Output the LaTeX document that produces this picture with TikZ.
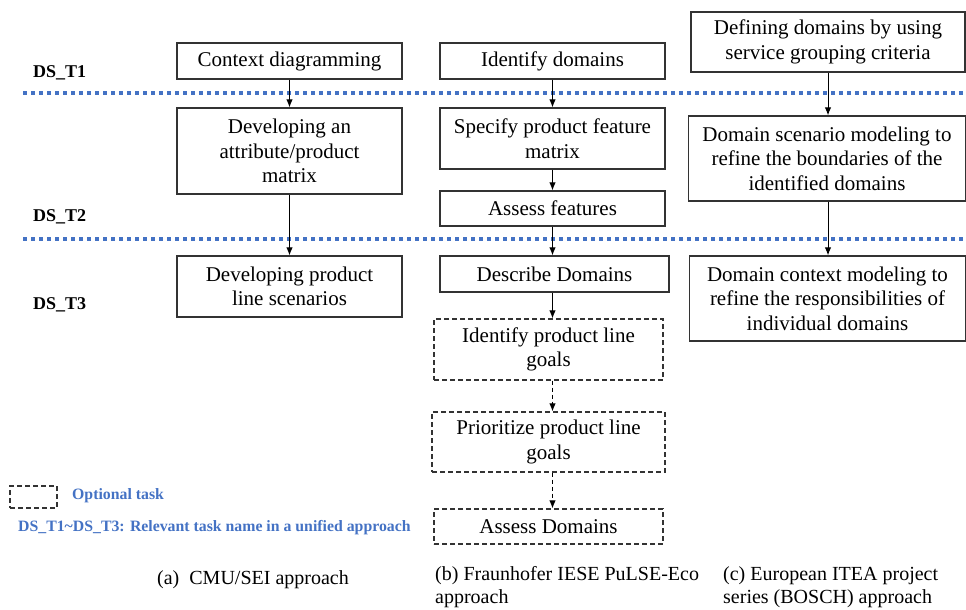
\documentclass[tikz,border=0pt]{standalone}
\usepackage{fontspec}
\setmainfont{Liberation Serif}
\newfontfamily\tms{Liberation Serif}
\usetikzlibrary{arrows.meta}
\definecolor{lblue}{HTML}{4472C4}
\definecolor{bord}{HTML}{333333}
\begin{document}
\begin{tikzpicture}[x=1pt,y=1pt,
  box/.style={draw=bord, line width=1.3pt, inner sep=0pt, align=center,
    font=\tms\fontsize{21}{24.5}\selectfont},
  optbox/.style={box, dashed, dash pattern=on 5pt off 3pt},
  arr/.style={-{Latex[length=8pt,width=6.5pt]}, line width=1pt, black},
  optarr/.style={arr, dash pattern=on 4pt off 3pt},
  dslabel/.style={anchor=west, inner sep=0pt, font=\tms\fontsize{18}{21}\selectfont\bfseries},
  sepline/.style={lblue, line width=3.5pt, dash pattern=on 3.5pt off 4.5pt},
  capt/.style={anchor=north west, inner sep=0pt, align=left, font=\tms\fontsize{20}{23.5}\selectfont},
  legtext/.style={anchor=west, inner sep=0pt, text=lblue, font=\tms\fontsize{15.8}{18}\selectfont\bfseries}]
\useasboundingbox (0,0) rectangle (966,-610);

% separator lines
\coordinate (s1a) at (23,-93); \coordinate (s1b) at (963,-93);
\coordinate (s2a) at (23,-239); \coordinate (s2b) at (963,-239);
\draw[sepline] (s1a) -- (s1b);
\draw[sepline] (s2a) -- (s2b);

% labels
\node[dslabel] (l1) at (33,-73) {DS\_T1};
\node[dslabel] (l2) at (33,-217) {DS\_T2};
\node[dslabel] (l3) at (33,-305) {DS\_T3};

% column a
\node[box, minimum width=225, minimum height=36] (a1) at (289.5,-61) {Context diagramming};
\node[box, minimum width=225, minimum height=86] (a2) at (289.5,-151) {Developing an\\attribute/product\\matrix};
\node[box, minimum width=225, minimum height=61] (a3) at (289.5,-286.5) {Developing product\\line scenarios};

% column b
\node[box, minimum width=225, minimum height=36] (b1) at (552.5,-61) {Identify domains};
\node[box, minimum width=225, minimum height=61] (b2) at (552.5,-138.5) {Specify product feature\\matrix};
\node[box, minimum width=225, minimum height=35] (b3) at (552.5,-208.5) {Assess features};
\node[box, minimum width=229, minimum height=36] (b4) at (554.5,-274) {Describe Domains};
\node[optbox, minimum width=229, minimum height=61] (b5) at (548.5,-349.5) {Identify product line\\goals};
\node[optbox, minimum width=233, minimum height=60] (b6) at (548.5,-442) {Prioritize product line\\goals};
\node[optbox, minimum width=229, minimum height=35] (b7) at (548.5,-526.5) {Assess Domains};

% column c
\node[box, minimum width=274, minimum height=60] (c1) at (828,-42) {Defining domains by using\\service grouping criteria};
\node[box, minimum width=277, minimum height=85] (c2) at (827,-158.5) {Domain scenario modeling to\\refine the boundaries of the\\identified domains};
\node[box, minimum width=276, minimum height=85] (c3) at (827.5,-298.5) {Domain context modeling to\\refine the responsibilities of\\individual domains};

% arrows
\draw[arr] (a1.south) -- (a2.north);
\draw[arr] (a2.south) -- (a3.north);
\draw[arr] (b1.south) -- (b2.north);
\draw[arr] (b2.south) -- (b3.north);
\draw[arr] (b3.south) -- (b3.south |- b4.north);
\draw[arr] (b4.south -| b3.south) -- (b3.south |- b5.north);
\draw[optarr] (b5.south -| b3.south) -- (b3.south |- b6.north);
\draw[optarr] (b6.south -| b3.south) -- (b3.south |- b7.north);
\draw[arr] (c1.south) -- (c1.south |- c2.north);
\draw[arr] (c2.south -| c1.south) -- (c1.south |- c3.north);

% legend
\node[optbox, minimum width=47, minimum height=22] (lg) at (33.5,-497) {};
\node[legtext] (lgt) at (72,-496) {Optional task};
\node[legtext] (lgt2) at (18,-528) {DS\_T1\textasciitilde DS\_T3: Relevant task name in a unified approach};

% captions
\node[capt] (ca) at (157,-570) {(a)\ \ CMU/SEI approach};
\node[capt] (cb) at (435,-566) {(b) Fraunhofer IESE PuLSE-Eco\\approach};
\node[capt] (cc) at (723,-566) {(c) European ITEA project\\series (BOSCH) approach};
\end{tikzpicture}
\end{document}
